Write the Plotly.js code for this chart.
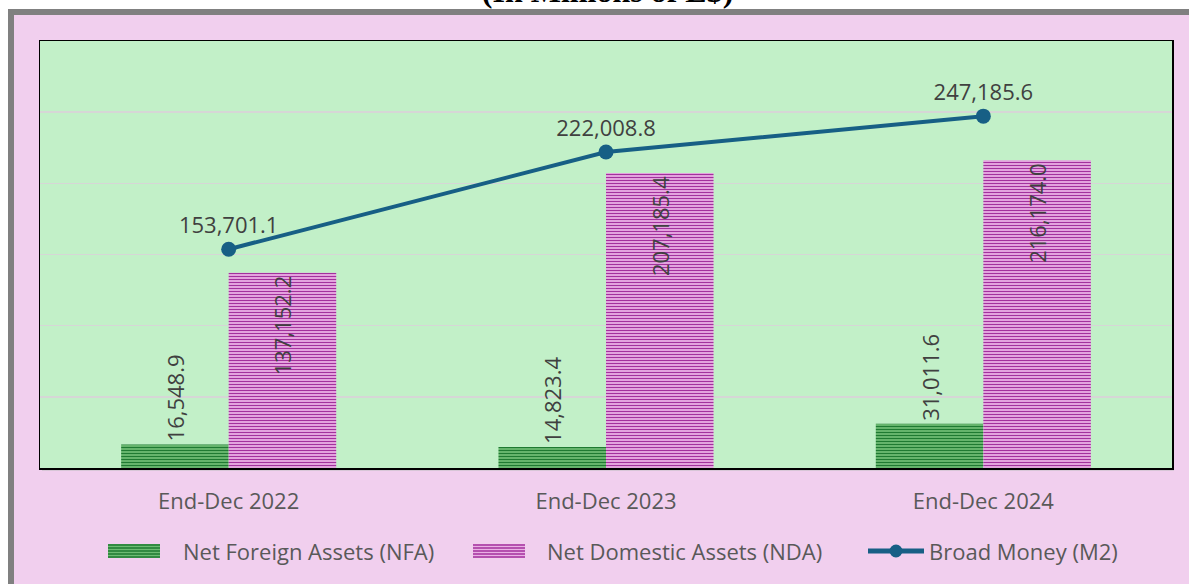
<!DOCTYPE html>
<html>
<head>
<meta charset="utf-8">
<script src="https://cdn.plot.ly/plotly-3.0.1.min.js"></script>
<style>
  html, body { margin: 0; padding: 0; background: #ffffff; }
  #chart { width: 1189px; height: 584px; }
</style>
</head>
<body>
<div id="chart"></div>
<script>
const categories = ["End-Dec 2022", "End-Dec 2023", "End-Dec 2024"];
const nfaValues = [16548.9, 14823.4, 31011.6];
const ndaValues = [137152.2, 207185.4, 216174.0];
const m2Values = [153701.1, 222008.8, 247185.6];
const seriesNames = ["Net Foreign Assets (NFA)", "Net Domestic Assets (NDA)", "Broad Money (M2)"];
const titleText = "(In Millions of E$)";

const fmt = v => v.toLocaleString("en-US", {minimumFractionDigits: 1, maximumFractionDigits: 1});

const W = 1189, H = 584;
const L = 40, R = 1172, T = 41, B = 468;
const px = x => (x - L) / (R - L);
const py = y => (B - y) / (B - T);

const FONT = "Open Sans, Liberation Sans, sans-serif";
const GREEN_FG = "#1f7a32", GREEN_BG = "#6dbb72";
const PINK_FG = "#a3319d", PINK_BG = "#eab0e5";
const LINE_C = "#175f85";

const traces = [
  {
    type: "bar", name: seriesNames[0], x: categories, y: nfaValues,
    text: nfaValues.map(fmt), textposition: "outside", textangle: -90,
    textfont: {family: FONT, size: 22, color: "#404040"},
    cliponaxis: false,
    marker: {color: GREEN_BG, line: {width: 0},
      pattern: {shape: "-", fgcolor: GREEN_FG, bgcolor: GREEN_BG, size: 3, solidity: 0.4}},
    showlegend: false
  },
  {
    type: "bar", name: seriesNames[1], x: categories, y: ndaValues,
    text: ndaValues.map(fmt), textposition: "inside", insidetextanchor: "end", textangle: -90,
    textfont: {family: FONT, size: 22, color: "#404040"},
    marker: {color: PINK_BG, line: {width: 0},
      pattern: {shape: "-", fgcolor: PINK_FG, bgcolor: PINK_BG, size: 3, solidity: 0.4}},
    showlegend: false
  },
  {
    type: "scatter", mode: "lines+markers+text", name: seriesNames[2], x: categories, y: m2Values,
    text: m2Values.map(fmt), textposition: "top center",
    textfont: {family: FONT, size: 22, color: "#404040"},
    line: {color: LINE_C, width: 4},
    marker: {color: LINE_C, size: 15, symbol: "circle"},
    cliponaxis: false, showlegend: false
  }
];

const shapes = [
  {type: "rect", xref: "paper", yref: "paper", x0: px(0), x1: px(W), y0: py(9), y1: py(0), fillcolor: "#ffffff", line: {width: 0}, layer: "below"},
  {type: "rect", xref: "paper", yref: "paper", x0: px(0), x1: px(8), y0: py(H), y1: py(0), fillcolor: "#ffffff", line: {width: 0}, layer: "below"},
  {type: "rect", xref: "paper", yref: "paper", x0: px(8), x1: px(W), y0: py(15), y1: py(9), fillcolor: "#808080", line: {width: 0}, layer: "below"},
  {type: "rect", xref: "paper", yref: "paper", x0: px(8), x1: px(14), y0: py(H), y1: py(9), fillcolor: "#808080", line: {width: 0}, layer: "below"},
  {type: "rect", xref: "paper", yref: "paper", x0: px(L + 2), x1: px(R + 2), y0: py(B + 2.5), y1: py(T + 2), fillcolor: "#bdbdbd", line: {width: 0}, layer: "below"},
  {type: "rect", xref: "paper", yref: "paper", x0: 0, x1: 1, y0: 0, y1: 1, fillcolor: "#c2f0c8", line: {width: 0}, layer: "below"}
];

// custom legend (swatches + texts)
const LEG_Y = 551;
const legendItems = [
  {sx0: 108, sx1: 160, tx: 181, kind: "bar", fg: GREEN_FG, bg: GREEN_BG},
  {sx0: 473, sx1: 525, tx: 545, kind: "bar", fg: PINK_FG, bg: PINK_BG},
  {sx0: 868, sx1: 924, tx: 927, kind: "line", fg: LINE_C}
];
const annotations = [];
legendItems.forEach((it, i) => {
  if (it.kind === "bar") {
    shapes.push({type: "rect", xref: "paper", yref: "paper", x0: px(it.sx0), x1: px(it.sx1),
      y0: py(LEG_Y + 7), y1: py(LEG_Y - 7), fillcolor: it.bg, line: {width: 0}, layer: "above"});
    for (let k = 0; k < 5; k++) {
      const yy = LEG_Y - 6 + k * 3;
      shapes.push({type: "line", xref: "paper", yref: "paper", x0: px(it.sx0), x1: px(it.sx1),
        y0: py(yy), y1: py(yy), line: {color: it.fg, width: 1.3}, layer: "above"});
    }
  } else {
    shapes.push({type: "line", xref: "paper", yref: "paper", x0: px(it.sx0), x1: px(it.sx1),
      y0: py(LEG_Y), y1: py(LEG_Y), line: {color: it.fg, width: 5}, layer: "above"});
    const cx = (it.sx0 + it.sx1) / 2;
    shapes.push({type: "circle", xref: "paper", yref: "paper", x0: px(cx - 6.5), x1: px(cx + 6.5),
      y0: py(LEG_Y + 6.5), y1: py(LEG_Y - 6.5), fillcolor: it.fg, line: {width: 0}, layer: "above"});
  }
  annotations.push({xref: "paper", yref: "paper", x: px(it.tx), y: py(LEG_Y), xanchor: "left", yanchor: "middle",
    text: seriesNames[i], showarrow: false, font: {family: FONT, size: 22, color: "#595959"}});
});

const layout = {
  width: W, height: H,
  paper_bgcolor: "#f1cfee",
  plot_bgcolor: "rgba(0,0,0,0)",
  margin: {l: L, r: W - R, t: T, b: H - B},
  title: {
    text: "<b>" + titleText + "</b>",
    font: {family: "Liberation Serif, Times New Roman, serif", size: 32, color: "#000000"},
    x: 0.511, xanchor: "center", xref: "container",
    y: 1 - 2 / H, yanchor: "bottom", yref: "container"
  },
  barmode: "group",
  bargap: 0.43,
  bargroupgap: 0,
  showlegend: false,
  xaxis: {
    type: "category",
    tickfont: {family: FONT, size: 22, color: "#595959"},
    showline: true, linecolor: "#000000", linewidth: 1.5, mirror: true,
    ticks: "", ticklabelstandoff: 13, showgrid: false, automargin: false
  },
  yaxis: {
    range: [0, 300000], dtick: 50000, tick0: 0,
    showticklabels: false, ticks: "",
    showgrid: true, gridcolor: "#d6d6d6", gridwidth: 1.5,
    zeroline: false,
    showline: true, linecolor: "#000000", linewidth: 1.5, mirror: true,
    automargin: false
  },
  shapes: shapes,
  annotations: annotations,
  font: {family: FONT}
};

Plotly.newPlot("chart", traces, layout, {displayModeBar: false, staticPlot: true});
</script>
</body>
</html>
